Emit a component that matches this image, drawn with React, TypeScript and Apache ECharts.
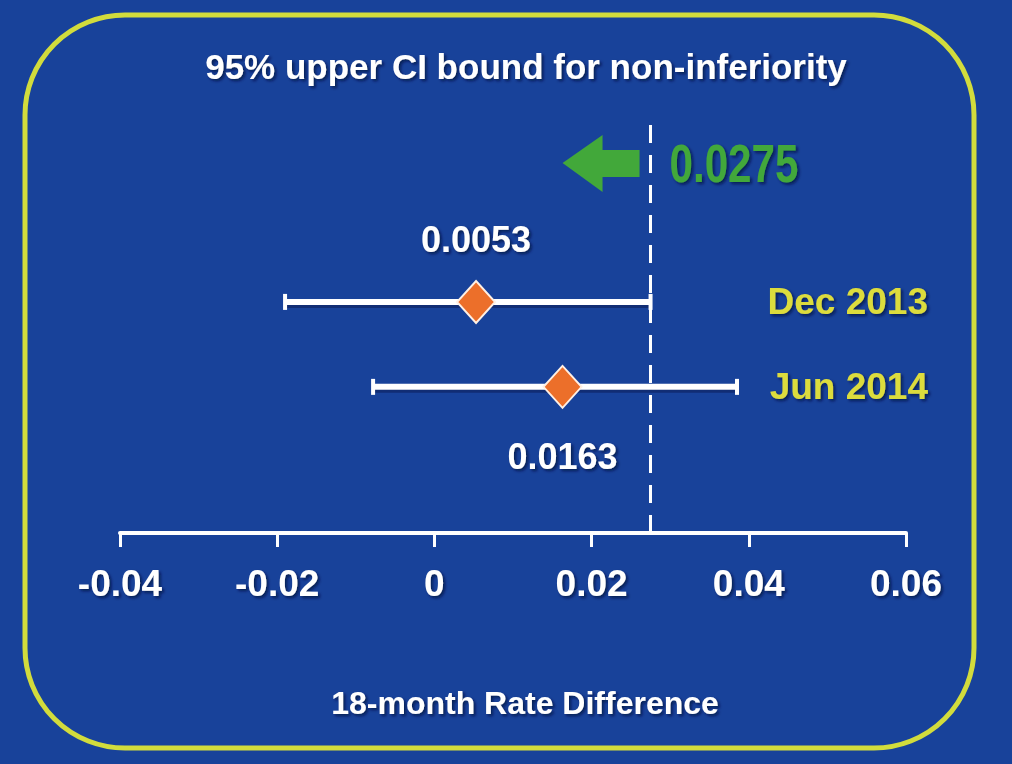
import React, { useEffect, useRef } from "react";
import * as echarts from "echarts";

// ---- data ----
const periods = ["Dec 2013", "Jun 2014"];
const rowIndex = [2, 1];
const estimates = [0.0053, 0.0163];
const lowerCI = [-0.019, -0.0078];
const upperCI = [0.0275, 0.0385];
const nonInferiorityMargin = 0.0275;
const xTickValues = [-0.04, -0.02, 0, 0.02, 0.04, 0.06];

const titleText = "95% upper CI bound for non-inferiority";
const axisTitle = "18-month Rate Difference";

const BG = "#18429a";
const YELLOW = "#dcdc3e";
const BORDER = "#d2dc3c";
const ORANGE = "#ec6f2a";
const GREEN = "#42a83a";
const FONT = "'Liberation Sans', Arial, Helvetica, sans-serif";
const SHADOW = {
  textShadowColor: "rgba(5,15,60,0.75)",
  textShadowBlur: 3,
  textShadowOffsetX: 2,
  textShadowOffsetY: 2,
};

export default function App() {
  const ref = useRef<HTMLDivElement>(null);

  useEffect(() => {
    if (!ref.current) return;
    const chart = echarts.init(ref.current, undefined, { renderer: "svg" });

    const xMin = xTickValues[0];
    const xMax = xTickValues[xTickValues.length - 1];
    const xInterval = xTickValues[1] - xTickValues[0];

    const ciData = periods.map((_, i) => [lowerCI[i], upperCI[i], rowIndex[i]]);
    const pointData = periods.map((_, i) => ({
      value: [estimates[i], rowIndex[i]],
      label: {
        position: i === 0 ? "top" : "bottom",
        distance: i === 0 ? 22 : 30,
      },
    }));

    const baseGraphic: any[] = [
      {
        type: "rect",
        z: 0,
        shape: { x: 25, y: 15, width: 949, height: 733, r: 100 },
        style: { fill: "none", stroke: BORDER, lineWidth: 5 },
      },
      {
        type: "text",
        x: 526,
        y: 66,
        style: {
          text: titleText,
          fill: "#ffffff",
          fontSize: 35,
          fontWeight: "bold",
          fontFamily: FONT,
          align: "center",
          verticalAlign: "middle",
          ...SHADOW,
        },
      },
      {
        type: "text",
        x: 525,
        y: 703,
        style: {
          text: axisTitle,
          fill: "#ffffff",
          fontSize: 32,
          fontWeight: "bold",
          fontFamily: FONT,
          align: "center",
          verticalAlign: "middle",
          ...SHADOW,
        },
      },
    ];

    chart.setOption({
      animation: false,
      backgroundColor: BG,
      grid: { left: 120, right: 106, top: 115, bottom: 231 },
      xAxis: {
        type: "value",
        min: xMin,
        max: xMax,
        interval: xInterval,
        splitLine: { show: false },
        axisLine: { show: true, onZero: false, lineStyle: { color: "#ffffff", width: 4 } },
        axisTick: { show: true, length: 14, lineStyle: { color: "#ffffff", width: 3 } },
        axisLabel: {
          color: "#ffffff",
          fontSize: 37,
          fontWeight: "bold",
          fontFamily: FONT,
          margin: 32,
          formatter: (v: number) => {
            const r = Math.round(v * 1000) / 1000;
            return r === 0 ? "0" : String(r);
          },
          ...SHADOW,
        },
      },
      yAxis: {
        type: "value",
        position: "right",
        offset: 22,
        min: -0.72,
        max: 4.2,
        splitLine: { show: false },
        axisLine: { show: false },
        axisTick: { show: false },
        axisLabel: {
          inside: true,
          margin: 0,
          customValues: rowIndex,
          color: YELLOW,
          fontSize: 37,
          fontWeight: "bold",
          fontFamily: FONT,
          formatter: (v: number) => {
            const k = rowIndex.indexOf(Math.round(v));
            return k >= 0 ? periods[k] : "";
          },
          ...SHADOW,
        },
      },
      series: [
        {
          type: "custom",
          z: 3,
          data: ciData,
          encode: { x: [0, 1], y: 2 },
          renderItem: (params: any, api: any) => {
            const lo = api.coord([api.value(0), api.value(2)]);
            const hi = api.coord([api.value(1), api.value(2)]);
            const cap = 8;
            return {
              type: "group",
              children: [
                { type: "line", shape: { x1: lo[0], y1: lo[1] + 3, x2: hi[0], y2: hi[1] + 3 }, style: { stroke: "rgba(8,20,70,0.45)", lineWidth: 6 } },
                { type: "line", shape: { x1: lo[0], y1: lo[1], x2: hi[0], y2: hi[1] }, style: { stroke: "#ffffff", lineWidth: 6 } },
                { type: "line", shape: { x1: lo[0], y1: lo[1] - cap, x2: lo[0], y2: lo[1] + cap }, style: { stroke: "#ffffff", lineWidth: 4 } },
                { type: "line", shape: { x1: hi[0], y1: hi[1] - cap, x2: hi[0], y2: hi[1] + cap }, style: { stroke: "#ffffff", lineWidth: 4 } },
              ],
            };
          },
        },
        {
          type: "scatter",
          z: 4,
          symbol: "diamond",
          symbolSize: [38, 42],
          itemStyle: { color: ORANGE, opacity: 1, borderColor: "#fff0e4", borderWidth: 2 },
          data: pointData,
          label: {
            show: true,
            color: "#ffffff",
            fontSize: 36,
            fontWeight: "bold",
            fontFamily: FONT,
            formatter: (p: any) => p.value[0].toFixed(4),
            ...SHADOW,
          },
          markLine: {
            silent: true,
            precision: 4,
            symbol: "none",
            label: { show: false },
            lineStyle: { color: "#ffffff", width: 3, type: [18, 12] },
            data: [{ xAxis: nonInferiorityMargin }],
          },
        },
      ],
      graphic: baseGraphic,
    });

    const px = chart.convertToPixel({ xAxisIndex: 0 }, nonInferiorityMargin) as number;
    const ay = 163;
    chart.setOption({
      graphic: [
        ...baseGraphic,
        {
          type: "polygon",
          z: 5,
          shape: {
            points: [
              [px - 11, ay - 13],
              [px - 48, ay - 13],
              [px - 48, ay - 28],
              [px - 88, ay],
              [px - 48, ay + 29],
              [px - 48, ay + 14],
              [px - 11, ay + 14],
            ],
          },
          style: { fill: GREEN },
        },
        {
          type: "text",
          x: px + 19,
          y: ay,
          scaleX: 0.78,
          style: {
            text: nonInferiorityMargin.toFixed(4),
            fill: GREEN,
            fontSize: 54,
            fontWeight: "bold",
            fontFamily: FONT,
            align: "left",
            verticalAlign: "middle",
            ...SHADOW,
          },
        },
      ],
    });

    return () => chart.dispose();
  }, []);

  return (
    <div
      ref={ref}
      style={{ position: "absolute", left: 0, top: 0, width: 1012, height: 764 }}
    />
  );
}
